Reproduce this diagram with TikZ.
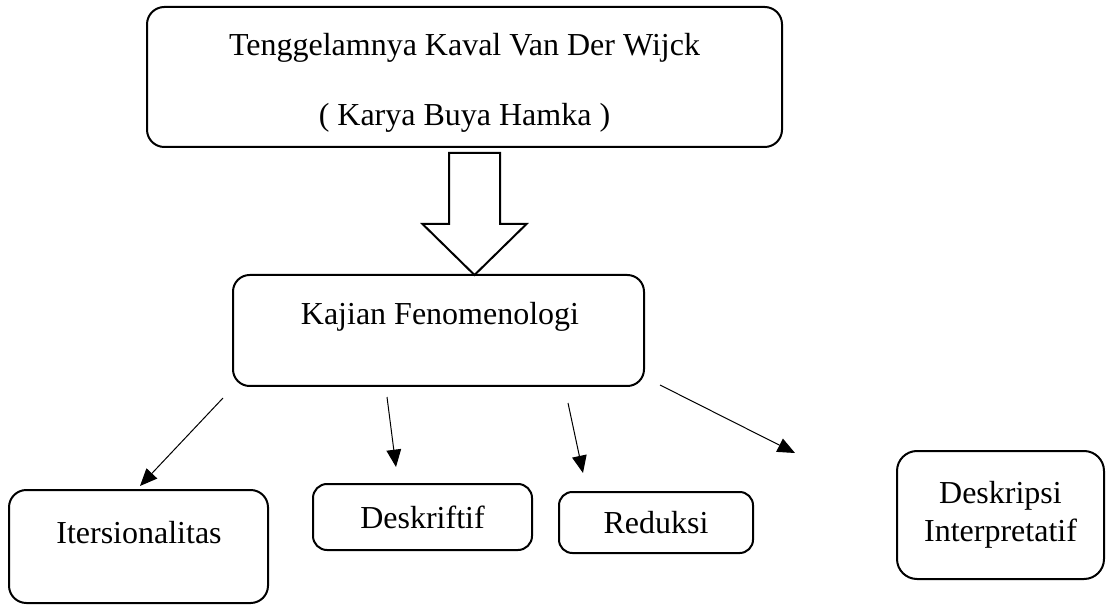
\documentclass[tikz,border=0pt]{standalone}
\usepackage{fontspec}
\setmainfont{Liberation Serif}
\usetikzlibrary{arrows.meta}
\newcommand{\boxfont}{\fontsize{24}{28.5}\selectfont}
\newcommand{\gapfont}{\fontsize{24}{52.5}\selectfont}

\begin{document}
\begin{tikzpicture}[x=0.75pt,y=-0.75pt,
    roundbox/.style={draw,rectangle,line width=1.5pt,inner sep=0pt,outer sep=0pt},
    boxtext/.style={inner sep=0pt,align=center},
    thinarrow/.style={line width=0.75pt,-{Triangle[length=13pt,width=11pt]}}]
  \useasboundingbox (0,0) rectangle (1109,605);

  \node[roundbox,rounded corners=13pt,minimum width=476.25pt,minimum height=105pt] (novel) at (464.5,77) {};
  \node[boxtext,font=\gapfont] (novel-text) at (464.5,83) {Tenggelamnya Kaval Van Der Wijck\\( Karya Buya Hamka )};

  \node[roundbox,rounded corners=12.5pt,minimum width=308.25pt,minimum height=83.25pt] (kajian) at (438.5,330.5) {};
  \node[boxtext,font=\boxfont] (kajian-text) at (440,317) {Kajian Fenomenologi};

  \coordinate (bigarrow-tip) at (474.5,275);
  \draw[line width=1.5pt,line join=miter] (449,153) -- (500,153) -- (500,224) -- (526.5,224)
    -- (bigarrow-tip) -- (422.5,224) -- (449,224) -- cycle;

  \node[roundbox,rounded corners=13pt,minimum width=194.25pt,minimum height=84.75pt] (itersional) at (138.5,546.5) {};
  \node[boxtext,font=\boxfont] (itersional-text) at (139,533) {Itersionalitas};
  \node[roundbox,rounded corners=10.5pt,minimum width=164.25pt,minimum height=49.5pt,font=\boxfont] (deskriftif) at (422.5,517) {Deskriftif};
  \node[roundbox,rounded corners=10pt,minimum width=145.5pt,minimum height=45.75pt,font=\boxfont] (reduksi) at (656,522.5) {Reduksi};
  \node[roundbox,rounded corners=15pt,minimum width=155.25pt,minimum height=96pt,font=\boxfont,align=center] (interpretatif) at (1000.5,515) {Deskripsi\\Interpretatif};

  \coordinate (itersional-from) at (223,398);
  \coordinate (itersional-to) at (140,486);
  \coordinate (deskriftif-from) at (387,397);
  \coordinate (deskriftif-to) at (396,467);
  \coordinate (reduksi-from) at (568,403);
  \coordinate (reduksi-to) at (583,473);
  \coordinate (interpretatif-from) at (660,385);
  \coordinate (interpretatif-to) at (795,453);

  \draw[thinarrow] (itersional-from) -- (itersional-to);
  \draw[thinarrow] (deskriftif-from) -- (deskriftif-to);
  \draw[thinarrow] (reduksi-from) -- (reduksi-to);
  \draw[thinarrow] (interpretatif-from) -- (interpretatif-to);
\end{tikzpicture}
\end{document}
